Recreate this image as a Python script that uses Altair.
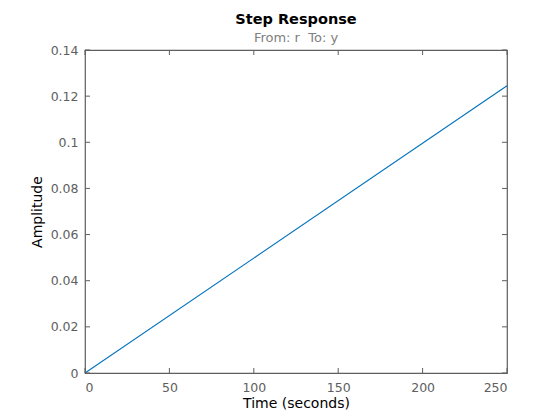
import altair as alt
import pandas as pd

time_s = [0, 250]
amplitude = [0, 0.1245]
x_ticks = [0, 50, 100, 150, 200, 250]
y_ticks = [0, 0.02, 0.04, 0.06, 0.08, 0.1, 0.12, 0.14]

W, H = 422, 323
AX = "#5e5e5e"
FONT = "DejaVu Sans"

df = pd.DataFrame({"t": time_s, "y": amplitude})
xt = pd.DataFrame({"v": x_ticks})
yt = pd.DataFrame({"v": y_ticks})

xs = alt.Scale(domain=[0, 250], nice=False, zero=False)
ys = alt.Scale(domain=[0, 0.14], nice=False, zero=False)

line = alt.Chart(df).mark_line(color="#0072BD", strokeWidth=1.1).encode(
    x=alt.X("t:Q", scale=xs, title="Time (seconds)",
            axis=alt.Axis(values=x_ticks, tickSize=0, grid=False, labelPadding=8,
                          titlePadding=3, format="d")),
    y=alt.Y("y:Q", scale=ys, title="Amplitude",
            axis=alt.Axis(values=y_ticks, tickSize=0, grid=False, labelPadding=7,
                          titlePadding=6, format=".2~f")),
)

tick_len = 5
xb = alt.Chart(xt).mark_rule(color=AX).encode(
    x=alt.X("v:Q", scale=xs), y=alt.value(H), y2=alt.value(H - tick_len))
xtop = alt.Chart(xt).mark_rule(color=AX).encode(
    x=alt.X("v:Q", scale=xs), y=alt.value(0), y2=alt.value(tick_len))
yl = alt.Chart(yt).mark_rule(color=AX).encode(
    y=alt.Y("v:Q", scale=ys), x=alt.value(0), x2=alt.value(tick_len))
yr = alt.Chart(yt).mark_rule(color=AX).encode(
    y=alt.Y("v:Q", scale=ys), x=alt.value(W - tick_len), x2=alt.value(W))

chart = alt.layer(line, xb, xtop, yl, yr).properties(
    width=W, height=H,
    title=alt.TitleParams(
        text="Step Response", subtitle="From: r\u00a0 To: y",
        anchor="middle", font=FONT, fontSize=14.5, fontWeight="bold", color="#000000",
        subtitleFont=FONT, subtitleFontSize=13, subtitleColor="#808080",
        subtitlePadding=5, offset=-2),
    padding={"left": 77, "top": 42, "right": 40, "bottom": 46},
    autosize=alt.AutoSizeParams(type="none"),
    background="white",
).configure_view(stroke=AX, strokeWidth=1.2).configure_axis(
    domain=False, labelFont=FONT, labelFontSize=12.5, labelColor=AX,
    titleFont=FONT, titleFontSize=14, titleFontWeight="normal", titleColor="#000000",
)

chart.save("out.html", embed_options={"renderer": "svg", "actions": False})
